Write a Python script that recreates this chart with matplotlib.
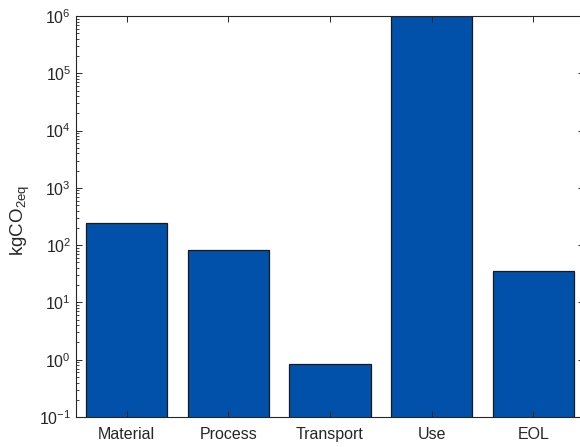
import matplotlib
matplotlib.use("Agg")
import matplotlib.pyplot as plt
from matplotlib.ticker import LogLocator, NullFormatter

categories = ["Material", "Process", "Transport", "Use", "EOL"]
values = [239, 82, 0.85, 1.0e6, 35]
ytick_vals = [1e-1, 1e0, 1e1, 1e2, 1e3, 1e4, 1e5, 1e6]

plt.rcParams['font.family'] = ['Liberation Sans', 'DejaVu Sans']
plt.rcParams['mathtext.fontset'] = 'custom'
plt.rcParams['mathtext.rm'] = 'Liberation Sans'
plt.rcParams['mathtext.it'] = 'Liberation Sans:italic'
plt.rcParams['mathtext.bf'] = 'Liberation Sans:bold'

W, H = 580, 447
fig = plt.figure(figsize=(W / 100, H / 100), dpi=100)
left, right, top, bottom = 76, 584, 16, 417
ax = fig.add_axes([left / W, 1 - bottom / H, (right - left) / W, (bottom - top) / H])

x = list(range(1, len(categories) + 1))
ax.bar(x, values, width=0.8, color='#0150AA', edgecolor='#1a1a1a', linewidth=0.9,
       bottom=1e-3)
ax.set_yscale('log')
ax.set_ylim(1e-1, 1e6)
ax.set_xlim(0.5, 5.5)
ax.set_xticks(x)
ax.set_xticklabels(categories, fontsize=11.5, color='#262626')
ax.set_yticks(ytick_vals)
ax.yaxis.set_minor_locator(LogLocator(base=10, subs=range(2, 10), numticks=20))
ax.yaxis.set_minor_formatter(NullFormatter())
ax.tick_params(axis='both', which='both', direction='in', top=True, right=True,
               colors='#262626', labelsize=11.5)
ax.tick_params(axis='both', which='major', length=4, width=0.7)
ax.tick_params(axis='x', which='major', pad=7)
ax.tick_params(axis='y', which='minor', length=2, width=0.6)
ax.tick_params(axis='x', which='minor', length=0)
for s in ax.spines.values():
    s.set_color('#262626')
    s.set_linewidth(0.8)
fig.text(20 / W, 1 - 220 / H, r'kgCO$_{\mathregular{2eq}}$', fontsize=13.5,
         color='#262626', rotation=90, ha='center', va='center')

fig.savefig('out.png', dpi=100)
